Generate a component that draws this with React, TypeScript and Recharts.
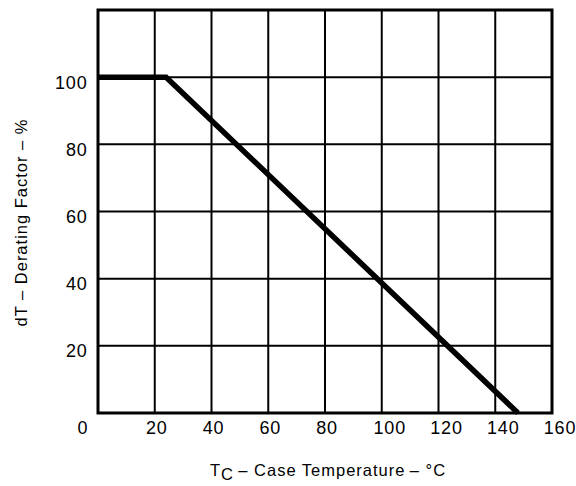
import React from 'react';
import { LineChart, Line, XAxis, YAxis, CartesianGrid, ReferenceArea } from 'recharts';

const caseTemperature = [0, 24, 148];
const deratingFactor = [100, 100, 0];
const xTickValues = [0, 20, 40, 60, 80, 100, 120, 140, 160];
const yTickValues = [0, 20, 40, 60, 80, 100, 120];
const yTickShown = [20, 40, 60, 80, 100];
const xAxisTitle = ['T', 'C', '\u2009\u2013 Case Temperature\u2009\u2013 \u00B0C'];
const yAxisTitle = 'dT \u2013 Derating Factor \u2013 %';

const data = caseTemperature.map((t, i) => ({ t, d: deratingFactor[i] }));

const FONT = '"Liberation Sans", Arial, Helvetica, sans-serif';

function XTick(props: any) {
  const { x, y, payload } = props;
  const v = payload.value;
  const dx = v === 0 ? -15 : v >= 100 ? 8 : 2;
  return (
    <text x={x + dx} y={y + 21} textAnchor="middle" fontFamily={FONT} fontSize={18} letterSpacing={0.8} fill="#000">
      {v}
    </text>
  );
}

function YTick(props: any) {
  const { x, y, payload } = props;
  const v = payload.value;
  if (!yTickShown.includes(v)) return null;
  return (
    <text x={x - 10.5} y={y + 11.5} textAnchor="end" fontFamily={FONT} fontSize={18} letterSpacing={0.8} fill="#000">
      {v}
    </text>
  );
}

function XTitle(props: any) {
  const vb = props.viewBox;
  const cx = vb.x + vb.width / 2 + 3;
  return (
    <text x={cx} y={476} textAnchor="middle" fontFamily={FONT} fontSize={16.5} letterSpacing={1} fill="#000">
      <tspan>{xAxisTitle[0]}</tspan>
      <tspan dy={4}>{xAxisTitle[1]}</tspan>
      <tspan dy={-4}>{xAxisTitle[2]}</tspan>
    </text>
  );
}

function YTitle(props: any) {
  const vb = props.viewBox;
  const cy = vb.y + vb.height / 2 + 11;
  const cx = 27;
  return (
    <text x={cx} y={cy} transform={`rotate(-90, ${cx}, ${cy})`} textAnchor="middle" fontFamily={FONT} fontSize={16.5} letterSpacing={1} fill="#000">
      {yAxisTitle}
    </text>
  );
}

export default function App() {
  return (
    <div style={{ position: 'absolute', left: 0, top: 0, width: 576, height: 486, background: '#fff' }}>
      <LineChart width={576} height={486} data={data} margin={{ top: 10, right: 24, bottom: 0, left: 0 }}>
        <CartesianGrid stroke="#000" strokeWidth={2} strokeOpacity={1} />
        <XAxis
          dataKey="t"
          type="number"
          domain={[0, 160]}
          ticks={xTickValues}
          height={73}
          axisLine={false}
          tickLine={false}
          tickSize={0}
          tickMargin={0}
          tick={<XTick />}
          interval={0}
          label={<XTitle />}
        />
        <YAxis
          type="number"
          domain={[0, 120]}
          ticks={yTickValues}
          width={98}
          axisLine={false}
          tickLine={false}
          tickSize={0}
          tickMargin={0}
          tick={<YTick />}
          interval={0}
          label={<YTitle />}
        />
        <ReferenceArea x1={0} x2={160} y1={0} y2={120} fill="none" stroke="#000" strokeWidth={3} ifOverflow="visible" />
        <Line type="linear" dataKey="d" stroke="#000" strokeWidth={5.5} dot={false} isAnimationActive={false} />
      </LineChart>
    </div>
  );
}
